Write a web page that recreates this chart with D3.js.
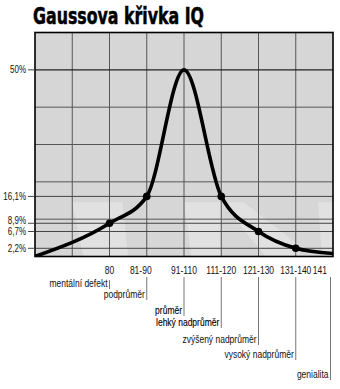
<!DOCTYPE html>
<html><head><meta charset="utf-8">
<script src="https://cdn.jsdelivr.net/npm/d3@7"></script>
<style>body{margin:0;background:#fff}svg{display:block}</style></head>
<body><svg id="c" width="340" height="389"></svg>
<script>
// ---- data ----
const title = "Gaussova křivka IQ";
const categories = ["80", "81-90", "91-110", "111-120", "121-130", "131-140", "141"];
const descriptors = ["mentální defekt", "podprůměr", "průměr", "lehký nadprůměr", "zvýšený nadprůměr", "vysoký nadprůměr", "genialita"];
const categoryPos = [2, 3, 4, 5, 6, 7, 8];
const curveX = [0, 2, 3, 4, 5, 6, 7, 8];
const curveY = [0, 8.9, 16.1, 50, 16.1, 6.7, 2.2, 0.8];
const markerIndex = [1, 2, 4, 5, 6];
const yTickValues = [50, 16.1, 8.9, 6.7, 2.2];
const yTickLabels = ["50%", "16,1%", "8,9%", "6,7%", "2,2%"];

// ---- layout ----
const FONT = "'Liberation Sans',Arial,sans-serif";
const SX = 0.85; // horizontal condensing of label text
const svg = d3.select("#c");
const L = 35, R = 333, T = 32.5, B = 256.5;
const x = d3.scaleLinear([0, 8], [L, R]);
const y = d3.scaleLinear([0, 60], [B, T]);

function label(px, py, txt, anchor, size, sx, dy) {
  return svg.append("text")
    .attr("transform", `translate(${px},${py}) scale(${sx},1)`)
    .attr("dy", dy || 0)
    .attr("text-anchor", anchor).attr("font-family", FONT).attr("font-size", size)
    .attr("fill", "#111").text(txt);
}

svg.append("text").attr("x", 33).attr("y", 24)
  .attr("font-family", "'DejaVu Sans Condensed','DejaVu Sans',sans-serif").attr("font-weight", "bold").attr("font-size", 23)
  .attr("textLength", 171).attr("lengthAdjust", "spacingAndGlyphs")
  .attr("stroke", "#000").attr("stroke-width", 0.5)
  .attr("fill", "#000").text(title);

const clip = svg.append("defs").append("clipPath").attr("id", "pc");
clip.append("rect").attr("x", L).attr("y", T).attr("width", R - L).attr("height", B - T);

const plot = svg.append("g").attr("clip-path", "url(#pc)");
plot.append("rect").attr("x", L).attr("y", T).attr("width", R - L).attr("height", B - T).attr("fill", "#d6d6d6");

// faint watermark shapes (decorative), in data units
const wm = [
  [[1.0, 14.5], [2.35, 14.5], [2.5, 0], [1.3, 0]],
  [[4.0, 14.5], [5.0, 14.5], [5.0, 0], [4.2, 0]],
  [[5.0, 14.5], [5.6, 14.5], [7.1, 3], [7.1, 0], [6.2, 0]],
  [[7.6, 14.5], [8, 14.5], [8, 0], [7.7, 0]]
];
plot.selectAll("path.wm").data(wm).join("path").attr("class", "wm")
  .attr("d", d => d3.line().x(p => x(p[0])).y(p => y(p[1]))(d) + "Z")
  .attr("fill", "#e1e1e1");

// grid
plot.selectAll("line.vg").data(d3.range(1, 8)).join("line").attr("class", "vg")
  .attr("x1", d => x(d)).attr("x2", d => x(d)).attr("y1", T).attr("y2", B)
  .attr("stroke", "#555").attr("stroke-width", 1);
plot.selectAll("line.hg").data(d3.range(10, 60, 10)).join("line").attr("class", "hg")
  .attr("x1", L).attr("x2", R).attr("y1", d => y(d)).attr("y2", d => y(d))
  .attr("stroke", d => d === 50 ? "#222" : "#555").attr("stroke-width", d => d === 50 ? 1.3 : 1);
plot.selectAll("line.sg").data(yTickValues.slice(1)).join("line").attr("class", "sg")
  .attr("x1", L).attr("x2", R).attr("y1", d => y(d)).attr("y2", d => y(d))
  .attr("stroke", "#444").attr("stroke-width", 1);

// curve
const pts = curveX.map((v, i) => [v, curveY[i]]);
plot.append("path").datum(pts)
  .attr("d", d3.line().x(d => x(d[0])).y(d => y(d[1])).curve(d3.curveMonotoneX))
  .attr("fill", "none").attr("stroke", "#000").attr("stroke-width", 3.6).attr("stroke-linejoin", "round");
plot.selectAll("circle").data(markerIndex.map(i => pts[i])).join("circle")
  .attr("cx", d => x(d[0])).attr("cy", d => y(d[1])).attr("r", 3.8).attr("fill", "#000");

svg.append("rect").attr("x", L).attr("y", T).attr("width", R - L).attr("height", B - T)
  .attr("fill", "none").attr("stroke", "#000").attr("stroke-width", 1.6);

// y labels
const yOff = [0, 0, -3, 0, 0];
yTickValues.forEach((v, i) => {
  svg.append("line").attr("x1", 28).attr("x2", L).attr("y1", y(v)).attr("y2", y(v))
    .attr("stroke", "#444").attr("stroke-width", 1);
  label(26, y(v) + yOff[i], yTickLabels[i], "end", 10, 0.8, "0.36em");
});

// category labels
const catShift = [0, -6, 0, 0, 0, 0, -4];
categories.forEach((c, i) => {
  const cx = Math.min(x(categoryPos[i]), R - 2) + catShift[i];
  label(cx, 274, c, i === 6 ? "end" : "middle", 10, SX);
});

// descriptor labels with leader ticks
const rowBase = [287, 298, 314, 326, 343, 358, 378];
descriptors.forEach((t, i) => {
  const tx = Math.min(x(categoryPos[i]), R - 2.5);
  svg.append("line").attr("x1", tx).attr("x2", tx).attr("y1", i === 0 ? 280 : 277).attr("y2", rowBase[i] + 2)
    .attr("stroke", "#666").attr("stroke-width", 0.9);
  label(tx - 2, rowBase[i], t, "end", 10, SX).attr("fill", (i === 2 || i === 3) ? "#000" : "#111")
    .attr("stroke", (i === 2 || i === 3) ? "#000" : "none").attr("stroke-width", 0.12);
});
</script></body></html>
